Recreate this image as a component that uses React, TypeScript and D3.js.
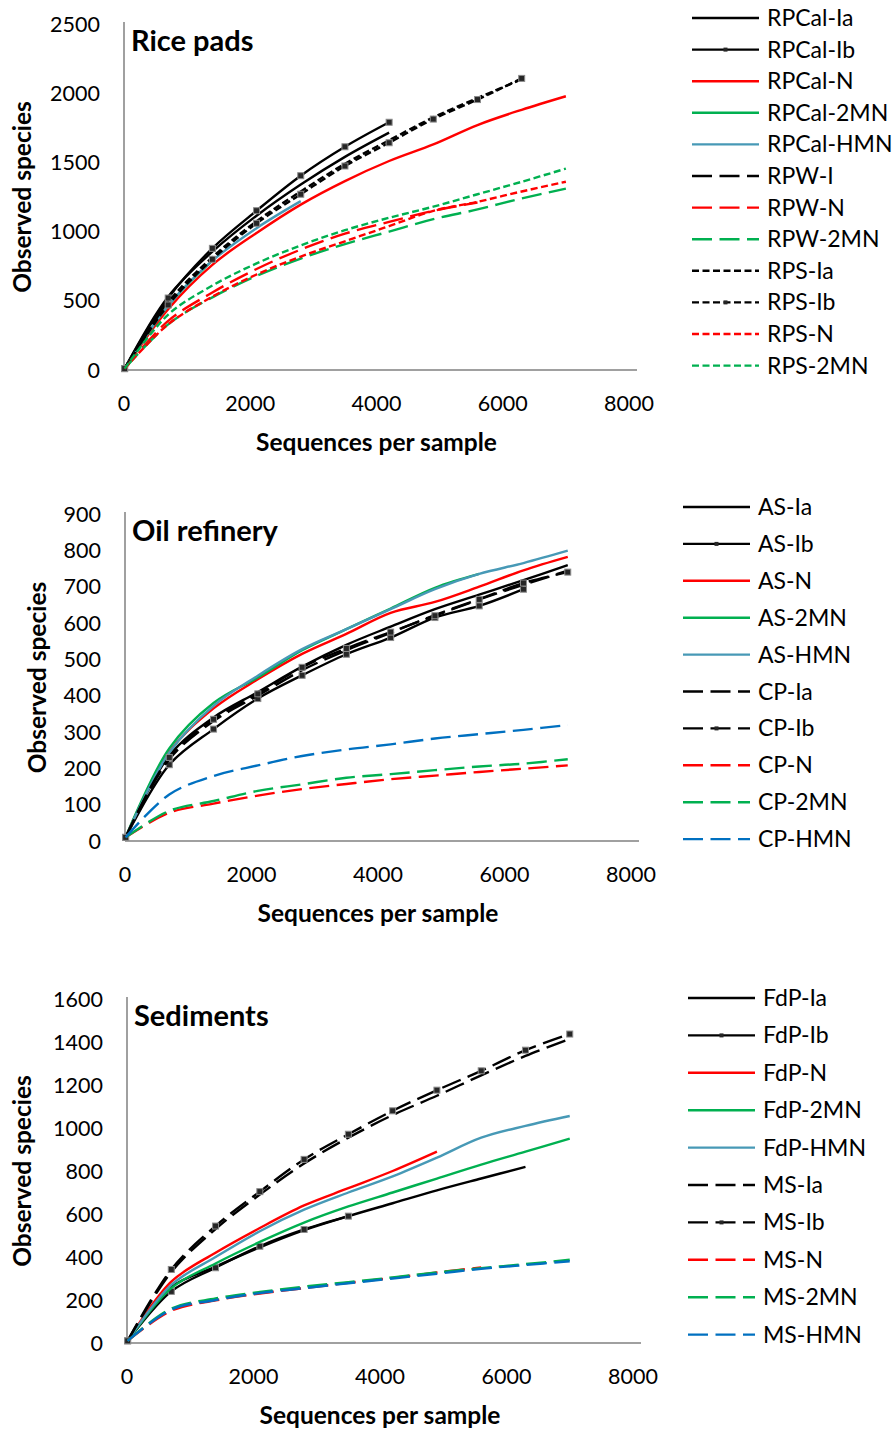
import React from "react";
import * as d3 from "d3";

// rarefaction depths (sequences per sample)
const DEPTHS = [10, 700, 1400, 2100, 2800, 3500, 4200, 4900, 5600, 6300, 7000];
const X_TICKS = [0, 2000, 4000, 6000, 8000];

// --- Rice pads ---
const RICE_NAMES = [
  "RPCal-Ia", "RPCal-Ib", "RPCal-N", "RPCal-2MN", "RPCal-HMN",
  "RPW-I", "RPW-N", "RPW-2MN", "RPS-Ia", "RPS-Ib", "RPS-N", "RPS-2MN",
];
const RICE_VALUES = [
  [10, 530, 855, 1115, 1340, 1540, 1715],
  [10, 520, 879, 1151, 1404, 1613, 1790],
  [10, 440, 760, 990, 1195, 1365, 1510, 1630, 1770, 1880, 1978],
  [10, 465, 790],
  [10, 465, 790, 1025, 1220],
  [10, 505],
  [10, 355, 560, 730, 870, 985, 1070, 1150, 1210],
  [10, 330, 525, 680, 805, 910, 1000, 1090, 1160, 1240, 1310],
  [10, 490, 815, 1075, 1290, 1490, 1660, 1825, 1965, 2100],
  [10, 470, 800, 1060, 1270, 1474, 1642, 1813, 1954, 2107],
  [10, 330, 530, 690, 820, 930, 1040, 1150, 1215, 1290, 1360],
  [10, 400, 610, 770, 900, 1010, 1100, 1180, 1270, 1360, 1455],
];
const RICE_TICKS = [0, 500, 1000, 1500, 2000, 2500];

// --- Oil refinery ---
const OIL_NAMES = [
  "AS-Ia", "AS-Ib", "AS-N", "AS-2MN", "AS-HMN",
  "CP-Ia", "CP-Ib", "CP-N", "CP-2MN", "CP-HMN",
];
const OIL_VALUES = [
  [10, 235, 340, 410, 480, 540, 590, 638, 678, 718, 759],
  [10, 210, 308, 392, 456, 514, 560, 615, 647, 693],
  [10, 245, 365, 445, 515, 570, 628, 658, 700, 745, 782],
  [10, 255, 380, 450, 525, 583, 640, 697, 735],
  [10, 243, 372, 455, 528, 583, 638, 693, 735, 765, 799],
  [10, 225, 330, 400, 470, 525, 573, 622, 665, 705, 744],
  [10, 230, 335, 405, 478, 530, 575, 620, 665, 710, 740],
  [10, 78, 103, 125, 143, 157, 170, 180, 190, 199, 208],
  [10, 83, 110, 138, 156, 174, 184, 195, 205, 213, 225],
  [10, 128, 179, 208, 234, 252, 266, 282, 294, 306, 319],
];
const OIL_TICKS = [0, 100, 200, 300, 400, 500, 600, 700, 800, 900];

// --- Sediments ---
const SED_NAMES = [
  "FdP-Ia", "FdP-Ib", "FdP-N", "FdP-2MN", "FdP-HMN",
  "MS-Ia", "MS-Ib", "MS-N", "MS-2MN", "MS-HMN",
];
const SED_VALUES = [
  [10, 260, 355, 445, 525, 590, 650, 710, 765, 819],
  [10, 240, 350, 450, 528, 590],
  [10, 285, 420, 535, 640, 720, 800, 890],
  [10, 255, 370, 470, 560, 635, 700, 765, 830, 890, 951],
  [10, 270, 400, 520, 620, 700, 775, 862, 955, 1010, 1056],
  [10, 330, 530, 690, 835, 955, 1060, 1150, 1245, 1335, 1414],
  [10, 342, 544, 704, 854, 971, 1080, 1176, 1266, 1362, 1437],
  [10, 150, 198, 230, 255, 280, 303, 328, 352],
  [10, 160, 207, 237, 262, 283, 305, 328, 348, 367, 387],
  [10, 155, 200, 232, 255, 278, 300, 322, 345, 363, 380],
];
const SED_TICKS = [0, 200, 400, 600, 800, 1000, 1200, 1400, 1600];

// styles
const BLACK = "#000000";
const RED = "#ff0000";
const GREEN = "#00b050";
const TEAL = "#4799b6";
const BLUE = "#0070c0";
const LONG = "20,7.5";
const SHORT = "7,3.5";

const RICE_STYLE = [
  { c: BLACK, d: null, m: false },
  { c: BLACK, d: null, m: true },
  { c: RED, d: null, m: false },
  { c: GREEN, d: null, m: false },
  { c: TEAL, d: null, m: false },
  { c: BLACK, d: LONG, m: false },
  { c: RED, d: LONG, m: false },
  { c: GREEN, d: LONG, m: false },
  { c: BLACK, d: SHORT, m: false },
  { c: BLACK, d: SHORT, m: true },
  { c: RED, d: SHORT, m: false },
  { c: GREEN, d: SHORT, m: false },
];
const TEN_STYLE = [
  { c: BLACK, d: null, m: false },
  { c: BLACK, d: null, m: true },
  { c: RED, d: null, m: false },
  { c: GREEN, d: null, m: false },
  { c: TEAL, d: null, m: false },
  { c: BLACK, d: LONG, m: false },
  { c: BLACK, d: LONG, m: true },
  { c: RED, d: LONG, m: false },
  { c: GREEN, d: LONG, m: false },
  { c: BLUE, d: LONG, m: false },
];

const FONT = "Lato, 'Open Sans', sans-serif";
const AXIS = "#a0a0a0";
const LW = 2.4;

const PANELS = [
  {
    title: "Rice pads", names: RICE_NAMES, values: RICE_VALUES, styles: RICE_STYLE,
    ticks: RICE_TICKS, x: [124, 629], y: [370, 24], ytx: 22,
    leg: { x: 692, y0: 18, dy: 31.6, tx: 767 },
  },
  {
    title: "Oil refinery", names: OIL_NAMES, values: OIL_VALUES, styles: TEN_STYLE,
    ticks: OIL_TICKS, x: [125, 631], y: [841, 514], ytx: 37,
    leg: { x: 683, y0: 507, dy: 36.9, tx: 758 },
  },
  {
    title: "Sediments", names: SED_NAMES, values: SED_VALUES, styles: TEN_STYLE,
    ticks: SED_TICKS, x: [127, 633], y: [1343, 999], ytx: 22,
    leg: { x: 688, y0: 998, dy: 37.4, tx: 763 },
  },
];

function Marker({ cx, cy }: { cx: number; cy: number }) {
  return (
    <rect x={cx - 3} y={cy - 3} width={6} height={6} fill="#262626" stroke="#8c8c8c" strokeWidth={1} />
  );
}

function Panel({ p }: { p: any }) {
  const x = d3.scaleLinear().domain([0, 8000]).range(p.x);
  const y = d3.scaleLinear().domain([0, p.ticks[p.ticks.length - 1]]).range(p.y);
  const line = d3
    .line<number>()
    .x((_, i) => x(DEPTHS[i]))
    .y((v) => y(v))
    .curve(d3.curveCatmullRom.alpha(0.5));
  const [x0, x1] = p.x;
  const [yb, yt] = p.y;
  return (
    <g>
      {/* axes */}
      <line x1={x0} x2={x0} y1={yb} y2={yt - 2} stroke={AXIS} strokeWidth={2} />
      <line x1={x0} x2={x1 + 8} y1={yb} y2={yb} stroke={AXIS} strokeWidth={2} />
      {p.ticks.map((t: number) => (
        <text key={t} x={x0 - 24} y={y(t)} dy="0.35em" textAnchor="end" fontSize={21.5} fontFamily={FONT}>
          {t}
        </text>
      ))}
      {X_TICKS.map((t) => (
        <text key={t} x={x(t)} y={yb + 41} textAnchor="middle" fontSize={21.5} fontFamily={FONT}>
          {t}
        </text>
      ))}
      <text x={(x0 + x1) / 2} y={yb + 81} textAnchor="middle" fontSize={24.5} fontWeight="bold" fontFamily={FONT}>
        Sequences per sample
      </text>
      <text
        transform={`translate(${p.ytx},${(yb + yt) / 2}) rotate(-90)`}
        dy="0.35em"
        textAnchor="middle"
        fontSize={24.5}
        fontWeight="bold"
        fontFamily={FONT}
      >
        Observed species
      </text>
      <text x={x0 + 7} y={yt + 27} fontSize={29} fontWeight="bold" fontFamily={FONT}>
        {p.title}
      </text>

      {/* series */}
      {p.values.map((vals: number[], i: number) => {
        const s = p.styles[i];
        return (
          <g key={p.names[i]}>
            <path d={line(vals) || ""} fill="none" stroke={s.c} strokeWidth={LW} strokeDasharray={s.d || undefined} />
            {s.m && vals.map((v, j) => <Marker key={j} cx={x(DEPTHS[j])} cy={y(v)} />)}
          </g>
        );
      })}

      {/* legend */}
      {p.names.map((n: string, i: number) => {
        const s = p.styles[i];
        const ly = p.leg.y0 + i * p.leg.dy;
        return (
          <g key={n}>
            <line x1={p.leg.x} x2={p.leg.x + 67} y1={ly} y2={ly} stroke={s.c} strokeWidth={LW} strokeDasharray={s.d || undefined} />
            {s.m && <rect x={p.leg.x + 31.5} y={ly - 2} width={4} height={4} fill="#262626" />}
            <text x={p.leg.tx} y={ly} dy="0.35em" fontSize={23} fontFamily={FONT}>
              {n}
            </text>
          </g>
        );
      })}
    </g>
  );
}

export default function App() {
  return (
    <svg
      width={894}
      height={1432}
      style={{ position: "absolute", left: 0, top: 0, background: "#fff" }}
    >
      <rect width={894} height={1432} fill="#fff" />
      {PANELS.map((p) => (
        <Panel key={p.title} p={p} />
      ))}
    </svg>
  );
}
